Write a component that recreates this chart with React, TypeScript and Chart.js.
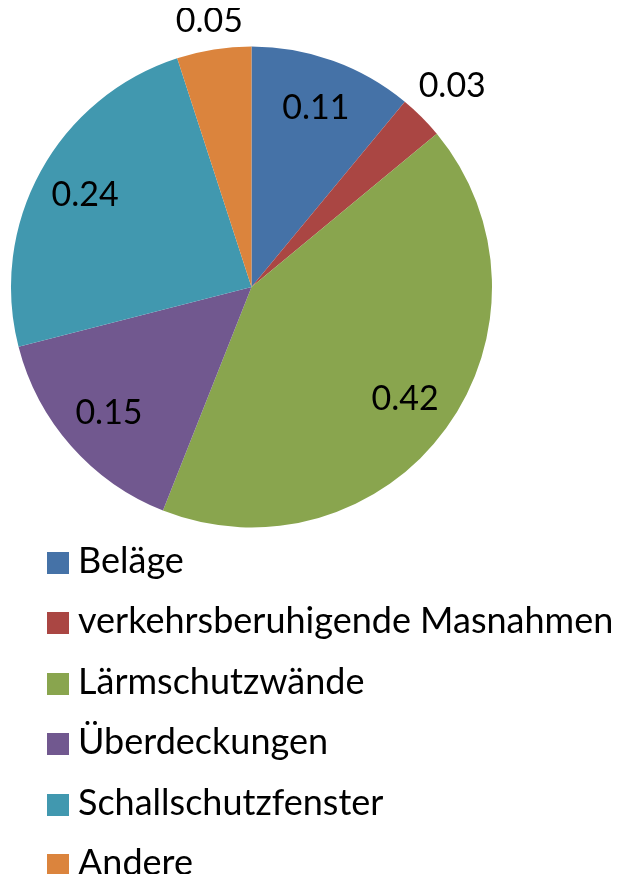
import React, { useEffect, useRef } from "react";
import { Chart, registerables } from "chart.js";

Chart.register(...registerables);

const categories = [
  "Beläge",
  "verkehrsberuhigende Masnahmen",
  "Lärmschutzwände",
  "Überdeckungen",
  "Schallschutzfenster",
  "Andere",
];
const shares = [0.11, 0.03, 0.42, 0.15, 0.24, 0.05];
const sliceColors = ["#4572A7", "#AA4643", "#89A54E", "#71588F", "#4198AF", "#DB843D"];

const FONT = "Lato, 'Open Sans', sans-serif";
const LABEL_SIZE = 34;
const LEGEND_SIZE = 36;

const labelPlugin = {
  id: "sliceLabels",
  afterDatasetsDraw(chart: any) {
    const ctx = chart.ctx;
    const meta = chart.getDatasetMeta(0);
    ctx.save();
    ctx.font = `${LABEL_SIZE}px ${FONT}`;
    ctx.fillStyle = "#000000";
    ctx.textAlign = "center";
    ctx.textBaseline = "middle";
    meta.data.forEach((arc: any, i: number) => {
      const p = arc.getProps(["x", "y", "startAngle", "endAngle", "outerRadius"], true);
      const mid = (p.startAngle + p.endAngle) / 2;
      const text = shares[i].toFixed(2);
      const cos = Math.cos(mid);
      const sin = Math.sin(mid);
      let d: number;
      if (shares[i] < 0.06) {
        const w = ctx.measureText(text).width;
        const h = LABEL_SIZE * 0.8;
        d = p.outerRadius + 10 + Math.abs(cos) * w / 2 + Math.abs(sin) * h / 2;
      } else {
        d = p.outerRadius * 0.79;
      }
      ctx.fillText(text, p.x + cos * d, p.y + sin * d);
    });
    ctx.restore();
  },
};

export default function App() {
  const ref = useRef<HTMLCanvasElement | null>(null);

  useEffect(() => {
    if (!ref.current) return;
    const chart = new Chart(ref.current, {
      type: "pie",
      data: {
        labels: categories,
        datasets: [
          {
            data: shares,
            backgroundColor: sliceColors,
            borderWidth: 0,
          },
        ],
      },
      options: {
        responsive: false,
        animation: false,
        layout: { padding: { left: 3, right: 119, top: 38.5, bottom: 20.5 } },
        plugins: {
          legend: { display: false },
          tooltip: { enabled: false },
        },
      },
      plugins: [labelPlugin],
    });
    return () => chart.destroy();
  }, []);

  return (
    <div style={{ position: "relative", width: 603, height: 866 }}>
      <canvas
        ref={ref}
        width={603}
        height={540}
        style={{ position: "absolute", left: 0, top: 0, width: 603, height: 540 }}
      />
      {categories.map((c, i) => (
        <div key={c}>
          <div
            style={{
              position: "absolute",
              left: 39,
              top: 544 + i * 60.4,
              width: 22,
              height: 22,
              background: sliceColors[i],
            }}
          />
          <div
            style={{
              position: "absolute",
              left: 70,
              top: 540 + i * 60.4,
              height: 22,
              lineHeight: "22px",
              fontFamily: FONT,
              fontSize: LEGEND_SIZE,
              color: "#000",
              whiteSpace: "nowrap",
            }}
          >
            {c}
          </div>
        </div>
      ))}
    </div>
  );
}
